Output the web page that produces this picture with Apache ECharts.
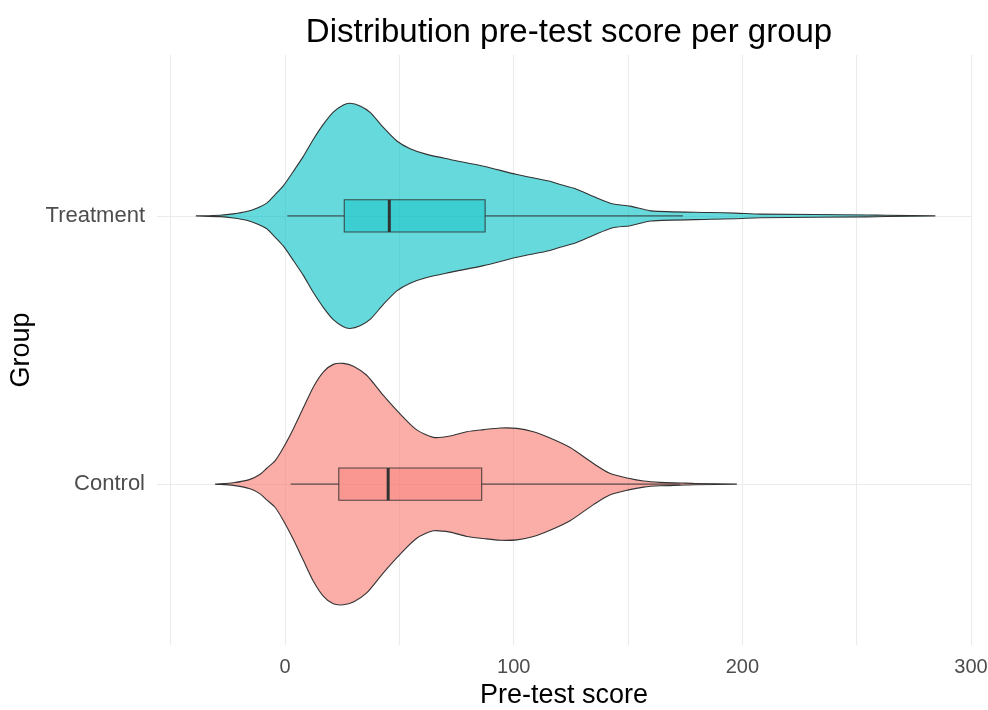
<!DOCTYPE html>
<html>
<head>
<meta charset="utf-8">
<script src="https://cdn.jsdelivr.net/npm/echarts@6/dist/echarts.min.js"></script>
<style>
  html, body { margin: 0; padding: 0; background: #ffffff; }
  #chart { width: 988px; height: 710px; }
</style>
</head>
<body>
<div id="chart"></div>
<script>
// ---- data ----
const categories = ['Control', 'Treatment'];
const xTickLabels = [0, 100, 200, 300];
const xGridValues = [-50, 0, 50, 100, 150, 200, 250, 300];

// violin outlines: score positions and relative density (1 = widest violin)
const controlScore = [-30.6, -22.6, -15.3, -10.9, -8.0, -4.4, -0.7, 3.6, 8.0, 12.4, 16.8, 21.1, 25.5, 29.9, 35.7, 43.0, 50.3, 57.6, 64.9, 72.2, 79.5, 86.8, 94.1, 101.4, 108.6, 115.9, 124.7, 134.9, 142.0, 150.2, 156.8, 164.0, 172.8, 179.4, 197.6];
const controlDensity = [0, 0.011, 0.039, 0.081, 0.131, 0.192, 0.303, 0.457, 0.632, 0.805, 0.930, 0.992, 1.0, 0.977, 0.902, 0.735, 0.582, 0.449, 0.387, 0.398, 0.434, 0.451, 0.465, 0.462, 0.434, 0.382, 0.303, 0.170, 0.090, 0.048, 0.025, 0.014, 0.009, 0.005, 0];

const treatmentScore = [-39.0, -28.4, -22.6, -16.8, -12.4, -8.0, -4.4, -0.7, 3.6, 8.0, 12.4, 16.8, 21.1, 25.5, 28.4, 32.8, 37.2, 43.0, 48.9, 54.7, 62.0, 72.2, 86.8, 101.4, 115.9, 120.3, 127.0, 134.9, 143.0, 150.9, 160.0, 186.0, 197.0, 208.0, 254.5, 263.0, 284.4];
const treatmentDensity = [0, 0.006, 0.017, 0.036, 0.064, 0.106, 0.175, 0.251, 0.368, 0.493, 0.635, 0.760, 0.860, 0.919, 0.933, 0.911, 0.858, 0.733, 0.621, 0.557, 0.510, 0.468, 0.412, 0.343, 0.287, 0.260, 0.225, 0.160, 0.100, 0.081, 0.042, 0.028, 0.023, 0.015, 0.008, 0.005, 0];

// box stats: [lower whisker, Q1, median, Q3, upper whisker]
const controlBox = [2.5, 23.5, 45.1, 86.0, 173.0];
const treatmentBox = [1.0, 25.9, 45.6, 87.5, 174.0];

// ---- drawing ----
const scores = [controlScore, treatmentScore];
const densities = [controlDensity, treatmentDensity];
const boxes = [controlBox, treatmentBox];
const violinFill = ['rgba(248,118,109,0.6)', 'rgba(0,191,196,0.6)'];
const boxFill = ['rgba(248,118,109,0.4)', 'rgba(0,191,196,0.4)'];
const VIOLIN_HALF = 0.45;
const BOX_HALF = 0.06;
const FONT = '"Liberation Sans", Arial, sans-serif';

function renderViolin(params, api) {
  const g = params.dataIndex;
  const pos = g + 1;
  const xs = scores[g], ds = densities[g];
  const pts = [];
  for (let i = 0; i < xs.length; i++) pts.push(api.coord([xs[i], pos + ds[i] * VIOLIN_HALF]));
  for (let i = xs.length - 1; i >= 0; i--) pts.push(api.coord([xs[i], pos - ds[i] * VIOLIN_HALF]));
  return {
    type: 'polygon',
    shape: { points: pts, smooth: 0.25 },
    style: { fill: violinFill[g], stroke: '#333333', lineWidth: 1.1 }
  };
}

function renderBox(params, api) {
  const g = params.dataIndex;
  const pos = g + 1;
  const b = boxes[g];
  const lo = api.coord([b[0], pos]);
  const q1 = api.coord([b[1], pos]);
  const q3 = api.coord([b[3], pos]);
  const hi = api.coord([b[4], pos]);
  const tl = api.coord([b[1], pos + BOX_HALF]);
  const br = api.coord([b[3], pos - BOX_HALF]);
  const mt = api.coord([b[2], pos + BOX_HALF]);
  const mb = api.coord([b[2], pos - BOX_HALF]);
  const lineStyle = { stroke: '#333333', lineWidth: 1 };
  return {
    type: 'group',
    children: [
      { type: 'line', shape: { x1: lo[0], y1: lo[1], x2: q1[0], y2: q1[1] }, style: lineStyle },
      { type: 'line', shape: { x1: q3[0], y1: q3[1], x2: hi[0], y2: hi[1] }, style: lineStyle },
      { type: 'rect', shape: { x: tl[0], y: tl[1], width: br[0] - tl[0], height: br[1] - tl[1] },
        style: { fill: boxFill[g], stroke: 'rgba(51,51,51,0.85)', lineWidth: 1.1 } },
      { type: 'line', shape: { x1: mt[0], y1: mt[1], x2: mb[0], y2: mb[1] },
        style: { stroke: '#333333', lineWidth: 3 } }
    ]
  };
}

const chart = echarts.init(document.getElementById('chart'), null, { renderer: 'canvas' });
chart.setOption({
  backgroundColor: '#ffffff',
  animation: false,
  title: {
    text: 'Distribution pre-test score per group',
    left: 564,
    top: 11,
    textAlign: 'center',
    textStyle: { fontFamily: FONT, fontSize: 33, fontWeight: 'normal', color: '#000000' }
  },
  grid: { left: 157, right: 17, top: 55, bottom: 65, containLabel: false, outerBoundsMode: 'none' },
  xAxis: {
    type: 'value',
    min: -56,
    max: 300,
    name: 'Pre-test score',
    nameLocation: 'middle',
    nameGap: 32,
    nameTextStyle: { fontFamily: FONT, fontSize: 27, color: '#000000' },
    axisLine: { show: false },
    axisTick: { show: false, customValues: xGridValues },
    axisLabel: { customValues: xTickLabels, margin: 12, fontFamily: FONT, fontSize: 20, color: '#4D4D4D' },
    splitLine: { show: true, lineStyle: { color: '#EBEBEB', width: 1.1 } }
  },
  yAxis: {
    type: 'value',
    min: 0.4,
    max: 2.6,
    name: 'Group',
    nameLocation: 'middle',
    nameRotate: 90,
    nameGap: 120,
    nameTextStyle: { fontFamily: FONT, fontSize: 27, color: '#000000' },
    axisLine: { show: false },
    axisTick: { show: false, customValues: [1, 2] },
    axisLabel: {
      customValues: [1, 2],
      margin: 12,
      fontFamily: FONT, fontSize: 22, color: '#4D4D4D',
      formatter: function (v) { return categories[Math.round(v) - 1] || ''; }
    },
    splitLine: { show: true, lineStyle: { color: '#EBEBEB', width: 1.1 } }
  },
  series: [
    {
      type: 'custom',
      name: 'violin',
      renderItem: renderViolin,
      data: categories.map(function (c, i) { return [0, i + 1]; }),
      encode: { x: 0, y: 1 },
      silent: true
    },
    {
      type: 'custom',
      name: 'box',
      renderItem: renderBox,
      data: categories.map(function (c, i) { return [0, i + 1]; }),
      encode: { x: 0, y: 1 },
      silent: true
    }
  ]
});
</script>
</body>
</html>
